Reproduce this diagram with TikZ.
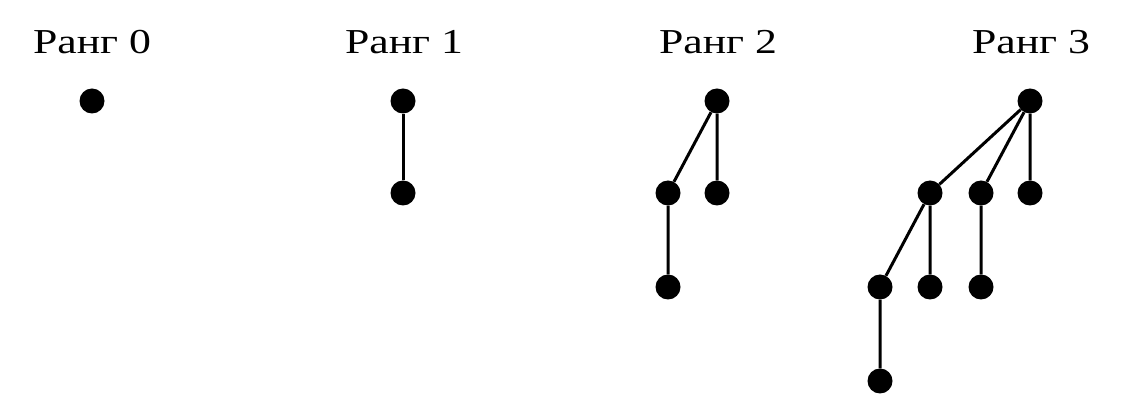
\documentclass[tikz,border=0pt]{standalone}
\usepackage{fontspec}
\setmainfont{Liberation Serif}[FakeStretch=1.25]
\begin{document}
\begin{tikzpicture}[x=1pt,y=-1pt,
  vert/.style={circle,fill=black,inner sep=0pt,minimum size=25pt},
  edge/.style={line width=3pt},
  rank/.style={font=\fontsize{35}{40}\selectfont,anchor=base}]
\useasboundingbox (0,0) rectangle (1125,419);

% rank labels
\node[rank] (l0) at (92,54) {Ранг 0};
\node[rank] (l1) at (404,54) {Ранг 1};
\node[rank] (l2) at (718,54) {Ранг 2};
\node[rank] (l3) at (1031,54) {Ранг 3};

% rank 0
\node[vert] (a0) at (92,101) {};

% rank 1
\node[vert] (b0) at (403,101) {};
\node[vert] (b1) at (403,193) {};

% rank 2
\node[vert] (c0) at (717,101) {};
\node[vert] (c1) at (668,193) {};
\node[vert] (c2) at (717,193) {};
\node[vert] (c3) at (668,287) {};

% rank 3
\node[vert] (d0) at (1030,101) {};
\node[vert] (d1) at (930,193) {};
\node[vert] (d2) at (981,193) {};
\node[vert] (d3) at (1030,193) {};
\node[vert] (d4) at (880,287) {};
\node[vert] (d5) at (930,287) {};
\node[vert] (d6) at (981,287) {};
\node[vert] (d7) at (880,381) {};

\draw[edge] (b0) -- (b1);
\draw[edge] (c0) -- (c1) (c0) -- (c2) (c1) -- (c3);
\draw[edge] (d0) -- (d1) (d0) -- (d2) (d0) -- (d3)
            (d1) -- (d4) (d1) -- (d5) (d2) -- (d6) (d4) -- (d7);
\end{tikzpicture}
\end{document}
